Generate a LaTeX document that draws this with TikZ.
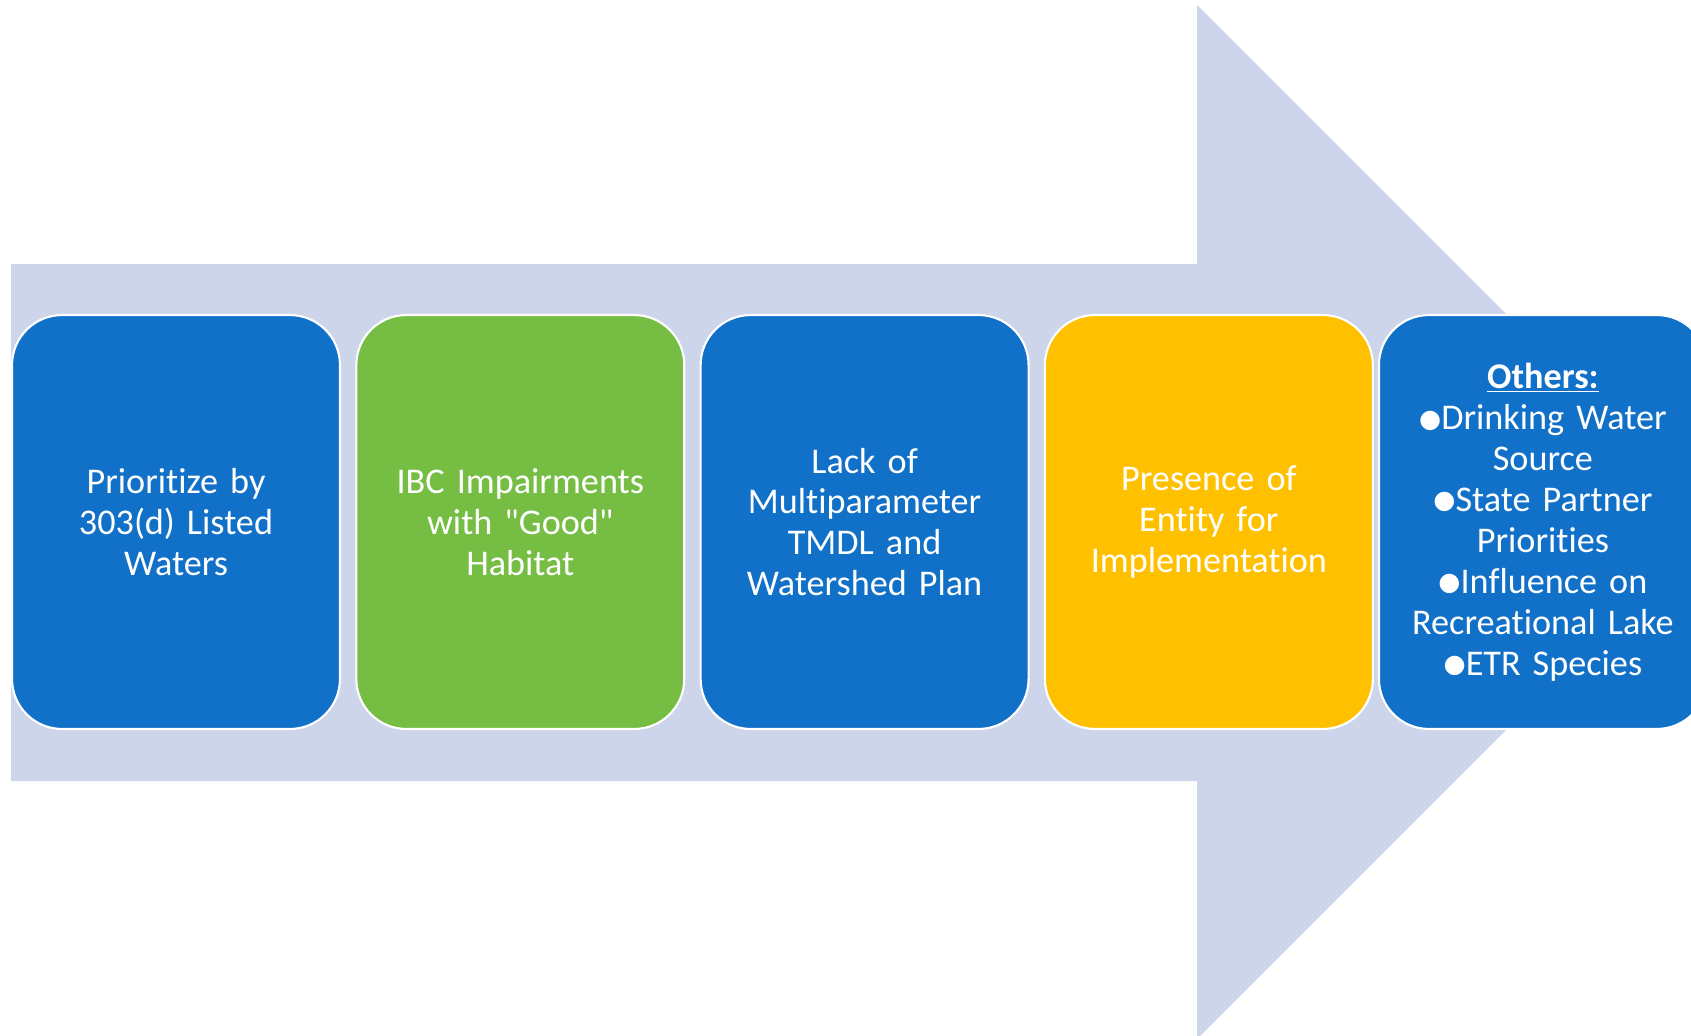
\documentclass[tikz,border=0pt]{standalone}
\usepackage{graphicx}
\usepackage{fontspec}
\setmainfont{Carlito}[Ligatures={TeXOff, CommonOff}]
\newfontfamily\symfont{DejaVu Sans}
\definecolor{flowblue}{RGB}{17, 112, 199}
\definecolor{flowgreen}{RGB}{117, 189, 67}
\definecolor{flowgold}{RGB}{255, 192, 0}
\definecolor{arrowgray}{RGB}{205, 213, 234}
\usetikzlibrary{positioning}
\tikzset{
	card/.style={rectangle, rounded corners=1cm, draw=white, line width=1.2pt, align=center, text width=6.3cm, minimum width=6.56cm, minimum height=8.28cm, inner sep=0pt, text=white, font=\fontsize{20.6}{23.3}\selectfont},
	bluecard/.style={card, fill=flowblue},
	greencard/.style={card, fill=flowgreen},
	goldcard/.style={card, fill=flowgold},
	bigarrow/.style={fill=arrowgray, draw=none},
}
\newcommand{\bul}{{\symfont\raisebox{0.12ex}{\scalebox{0.7}{●}}}}

\begin{document}
\begin{tikzpicture}[x=0.02cm, y=-0.02cm, node distance=0.285cm]
		\useasboundingbox (0,0) rectangle (1691,1035);
		\clip (0,0) rectangle (1691,1035);
		% background arrow
		\fill[bigarrow] (11,264) -- (1197,264) -- (1197,5) -- (1714,522) -- (1197,1039) -- (1197,781) -- (11,781) -- cycle;
		\node[bluecard] (prioritize) at (176,522) {Prioritize by\\303(d) Listed\\Waters};
		\node[greencard, right=of prioritize] (ibc) {IBC Impairments\\with "Good"\\Habitat};
		\node[bluecard, right=of ibc] (lack) {Lack of\\Multiparameter\\TMDL and\\Watershed Plan};
		\node[goldcard, right=of lack] (entity) {Presence of\\Entity for\\Implementation};
		\node[bluecard, right=0.08cm of entity] (others) {\underline{\textbf{Others:}}\\\bul Drinking Water\\Source\\\bul State Partner\\Priorities\\\bul Influence on\\Recreational Lake\\\bul ETR Species};
	\end{tikzpicture}
\end{document}
